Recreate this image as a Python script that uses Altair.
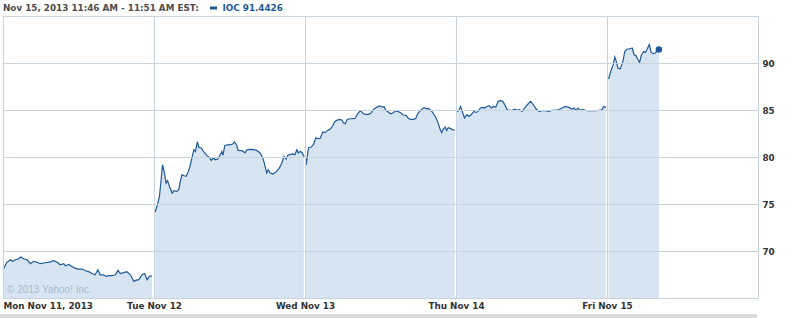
import json
import altair as alt
import pandas as pd

# ---------------- data ----------------
day_labels = ["Mon Nov 11, 2013", "Tue Nov 12", "Wed Nov 13", "Thu Nov 14", "Fri Nov 15"]
y_ticks = [70, 75, 80, 85, 90]
day_length = 390  # trading minutes per session (9:30-16:00)

header_time = "Nov 15, 2013 11:46 AM - 11:51 AM EST:"
symbol = "IOC"
last_quote = "91.4426"
copyright_text = "\u00a9 2013 Yahoo! Inc."

# minutes since 9:30 open, and price
mon_min = [0, 10, 19, 25, 32, 39, 46, 53, 62, 71, 79, 88, 96, 109, 122, 131, 140, 148, 157, 161,
           170, 178, 187, 196, 204, 213, 221, 230, 238, 245, 251, 260, 266, 273, 282, 290, 297, 303,
           312, 320, 329, 338, 342, 351, 359, 366, 372, 378, 385]
mon_val = [68.0, 68.8, 69.07, 68.9, 69.07, 69.15, 69.36, 69.17, 69.07, 68.65, 68.9, 68.8, 68.65, 68.75,
           68.85, 68.97, 68.8, 68.54, 68.65, 68.43, 68.57, 68.36, 68.15, 68.08, 68.08, 67.9, 67.8, 67.6,
           67.47, 68.0, 67.47, 67.47, 67.3, 67.37, 67.37, 67.47, 67.94, 67.6, 67.7, 67.8, 67.47, 66.77,
           66.87, 66.95, 67.48, 67.6, 66.95, 67.3, 67.37]

tue_min = [3, 9, 14, 18, 22, 27, 31, 35, 40, 47, 52, 59, 64, 67, 72, 78, 83, 89, 93, 98, 103, 107, 112,
           116, 122, 129, 136, 143, 148, 153, 158, 165, 171, 175, 178, 183, 189, 196, 203, 208, 214, 217,
           227, 235, 241, 248, 257, 265, 274, 281, 286, 291, 295, 300, 307, 315, 324, 330, 336, 341, 345,
           351, 358, 364, 369, 373, 378, 383, 387]
tue_val = [74.15, 74.93, 75.8, 77.4, 79.18, 78.3, 77.23, 77.48, 76.87, 76.17, 76.41, 76.34, 76.52, 77.23,
           78.1, 78.0, 77.94, 78.47, 79.0, 79.9, 80.78, 80.6, 81.6, 81.02, 80.96, 80.53, 80.17, 79.96,
           79.64, 79.9, 79.71, 79.79, 80.25, 80.6, 80.17, 81.23, 81.3, 81.3, 81.38, 81.6, 81.23, 80.7,
           80.67, 80.46, 80.78, 80.81, 80.78, 80.7, 80.43, 79.9, 79.18, 78.3, 78.65, 78.3, 78.19, 78.4,
           78.83, 79.36, 80.06, 79.79, 80.17, 80.25, 80.32, 80.25, 80.78, 80.43, 80.6, 80.43, 80.06]

wed_min = [1, 3, 9, 16, 22, 28, 32, 39, 46, 52, 58, 65, 71, 77, 82, 89, 95, 99, 104, 109, 116, 123, 129,
           135, 142, 146, 151, 156, 164, 170, 177, 183, 189, 194, 198, 204, 209, 215, 221, 228, 234, 241,
           247, 254, 261, 267, 274, 280, 286, 291, 297, 303, 308, 314, 320, 325, 330, 336, 340, 345, 349,
           353, 357, 362, 366, 370, 375, 379, 383, 387]
wed_val = [80.2, 79.15, 80.99, 81.06, 81.34, 82.05, 81.95, 81.98, 82.66, 82.59, 82.83, 82.94, 83.3, 83.76,
           83.9, 84.0, 83.94, 83.65, 83.54, 84.0, 84.07, 84.07, 84.1, 84.53, 84.89, 84.82, 84.6, 84.53,
           84.53, 84.64, 85.07, 85.25, 85.36, 85.43, 85.32, 85.36, 84.96, 84.79, 84.6, 84.71, 84.89, 84.82,
           84.71, 84.47, 84.43, 84.1, 84.0, 84.0, 84.1, 84.6, 84.89, 85.14, 85.25, 85.14, 85.14, 84.96,
           84.71, 84.36, 84.0, 83.47, 82.94, 82.59, 82.94, 83.19, 82.83, 83.12, 83.05, 82.94, 82.87, 82.87]

thu_min = [3, 7, 12, 17, 22, 28, 33, 39, 46, 52, 57, 63, 69, 74, 80, 86, 91, 97, 103, 109, 114, 121, 126,
           132, 138, 145, 152, 158, 164, 171, 177, 184, 193, 200, 207, 214, 222, 231, 239, 248, 257, 265,
           274, 282, 291, 300, 305, 310, 315, 321, 327, 334, 343, 351, 360, 369, 377, 381, 387]
thu_val = [84.85, 84.93, 85.38, 84.74, 84.15, 84.5, 84.32, 84.5, 84.85, 84.74, 84.85, 85.21, 85.28, 85.21,
           85.38, 85.46, 85.21, 85.38, 85.32, 85.92, 85.99, 85.92, 85.56, 85.03, 84.96, 84.96, 85.1, 84.96,
           85.03, 84.85, 85.21, 85.56, 85.92, 85.56, 85.1, 84.85, 84.93, 84.93, 84.85, 84.96, 84.96, 85.03,
           85.21, 85.38, 85.28, 85.1, 85.21, 84.96, 85.21, 84.96, 85.03, 84.96, 84.93, 84.93, 84.93, 84.96,
           85.03, 85.38, 85.28]

fri_min = [4, 11, 16, 20, 24, 28, 34, 41, 46, 52, 58, 65, 70, 75, 80, 84, 89, 95, 99, 103, 109, 114, 119,
           125, 129, 134]
fri_val = [88.3, 89.29, 89.82, 90.64, 90.17, 89.47, 89.36, 90.17, 91.23, 91.49, 91.49, 91.6, 90.88, 90.78,
           90.35, 90.07, 90.88, 91.23, 91.13, 91.41, 91.95, 91.13, 90.99, 91.06, 91.3, 91.44]

# ---------------- build table ----------------
rows = []
for d, (mins, vals) in enumerate([(mon_min, mon_val), (tue_min, tue_val), (wed_min, wed_val),
                                  (thu_min, thu_val), (fri_min, fri_val)]):
    for m, v in zip(mins, vals):
        rows.append({"t": d * day_length + m, "v": v, "day": day_labels[d]})
df = pd.DataFrame(rows)
last = df.tail(1)

# ---------------- style ----------------
FONT = "DejaVu Sans"
LINE = "#1f5a98"
FILL = "#d6e5f1"
GRID = "#c8d5df"
LABEL = "#333333"

x_scale = alt.Scale(domain=[0, 5 * day_length], nice=False, zero=False)
y_scale = alt.Scale(domain=[65, 95], nice=False, zero=False)

label_expr = json.dumps(day_labels) + "[round(datum.value / %d)]" % day_length

x_axis = alt.Axis(values=[i * day_length for i in range(5)], labelExpr=label_expr, title=None,
                  grid=True, gridColor=GRID, gridWidth=1, ticks=False, domain=False,
                  labelFont=FONT, labelFontSize=8.8, labelFontWeight="bold", labelColor=LABEL,
                  labelPadding=3, labelFlush=True, labelOverlap=False, zindex=1)
y_axis = alt.Axis(orient="right", values=y_ticks, title=None, grid=True, gridColor=GRID, gridWidth=1,
                  ticks=False, domain=False, labelFont=FONT, labelFontSize=8.8, labelFontWeight="bold",
                  labelColor=LABEL, labelPadding=4, zindex=1)

base = alt.Chart(df)

area = base.mark_area(color=FILL, opacity=1, clip=True).encode(
    x=alt.X("t:Q", scale=x_scale, axis=x_axis),
    y=alt.Y("v:Q", scale=y_scale, axis=y_axis, stack=None),
    y2=alt.datum(65),
    detail="day:N",
)

line = base.mark_line(color=LINE, strokeWidth=1.2).encode(
    x=alt.X("t:Q", scale=x_scale),
    y=alt.Y("v:Q", scale=y_scale),
    detail="day:N",
)

dot = alt.Chart(last).mark_circle(size=42, color=LINE, opacity=1).encode(
    x=alt.X("t:Q", scale=x_scale),
    y=alt.Y("v:Q", scale=y_scale),
)

hdr = pd.DataFrame({"a": [header_time], "b": [symbol + " " + last_quote], "c": [copyright_text]})

head1 = alt.Chart(hdr).mark_text(align="left", baseline="middle", font=FONT, fontSize=8.8,
                                 fontWeight="bold", color="#4d4d4d").encode(
    x=alt.value(0), y=alt.value(-8), text="a:N")
swatch = alt.Chart(hdr).mark_rect(color=LINE).encode(
    x=alt.value(207), x2=alt.value(214), y=alt.value(-9.5), y2=alt.value(-6.5))
head2 = alt.Chart(hdr).mark_text(align="left", baseline="middle", font=FONT, fontSize=8.8,
                                 fontWeight="bold", color="#1f5a98").encode(
    x=alt.value(219.5), y=alt.value(-8), text="b:N")
water = alt.Chart(hdr).mark_text(align="left", baseline="middle", font="Liberation Sans", fontSize=10,
                                 color="#a8bccc").encode(
    x=alt.value(4), y=alt.value(274), text="c:N")
bottom_bar = alt.Chart(hdr).mark_rule(color="#dcdcdc", strokeWidth=4).encode(
    x=alt.value(-3), x2=alt.value(754), y=alt.value(300))

chart = alt.layer(area, line, dot, water, head1, swatch, head2, bottom_bar).properties(
    width=755, height=282,
    autosize=alt.AutoSizeParams(type="none"),
    padding={"left": 3, "top": 16, "right": 39, "bottom": 20},
    background="white",
).configure_view(stroke=GRID, strokeWidth=1)

chart.save("out.html", embed_options={"renderer": "svg", "actions": False})
